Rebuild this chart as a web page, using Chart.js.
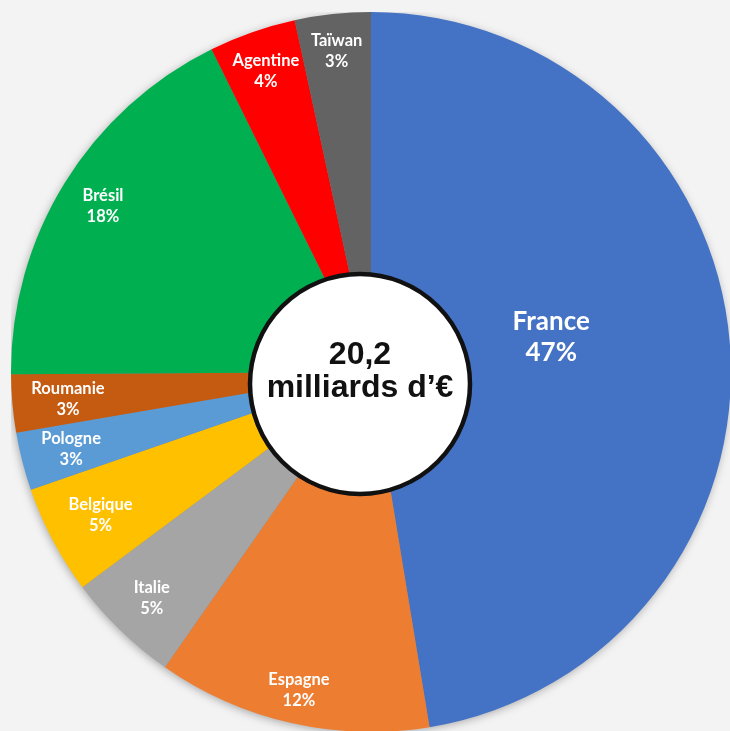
<!DOCTYPE html>
<html>
<head>
<meta charset="utf-8">
<script src="https://cdn.jsdelivr.net/npm/chart.js@4/dist/chart.umd.min.js"></script>
<style>
  html, body { margin: 0; padding: 0; width: 730px; height: 731px; overflow: hidden; background: #f3f3f3; }
  #wrap { position: absolute; left: 11px; top: 12px; width: 720px; height: 720px; }
</style>
</head>
<body>
<div id="wrap"><canvas id="pie"></canvas></div>
<script>
(function () {

// -------------------------------------------------------------------------------------------------------

var countries = ['France', 'Espagne', 'Italie', 'Belgique', 'Pologne', 'Roumanie', 'Brésil', 'Agentine', 'Taïwan'];
var shares = [47.4, 12.3, 5.1, 4.9, 2.6, 2.6, 17.8, 3.9, 3.4];
var colors = ['#4472C4', '#ED7D31', '#A5A5A5', '#FFC000', '#5B9BD5', '#C55A11', '#00B050', '#FF0000', '#636363'];
var centerLines = ['20,2', 'milliards d\u2019\u20AC'];

// -------------------------------------------------------------------------------------------------------

var pieShadow = {
    id: 'pieShadow',
    beforeDatasetsDraw: function (chart) {
        var arc = chart.getDatasetMeta(0).data[0];
        if (!arc) return;
        var ctx = chart.ctx;
        ctx.save();
        ctx.shadowColor = 'rgba(0,0,0,0.35)';
        ctx.shadowBlur = 10;
        ctx.shadowOffsetX = -1;
        ctx.shadowOffsetY = 2;
        ctx.fillStyle = '#888';
        ctx.beginPath();
        ctx.arc(arc.x, arc.y, arc.outerRadius - 1, 0, Math.PI * 2);
        ctx.fill();
        ctx.restore();
    }
};

var sliceLabels = {
    id: 'sliceLabels',
    afterDatasetsDraw: function (chart, args, opts) {
        var ctx = chart.ctx;
        var meta = chart.getDatasetMeta(0);
        ctx.save();
        ctx.fillStyle = '#fff';
        ctx.textAlign = 'center';
        ctx.textBaseline = 'middle';
        meta.data.forEach(function (arc, i) {
            var o = opts.special[i] || {};
            var f = o.radius || opts.radius;
            var size = o.size || opts.size;
            var gap = o.gap || opts.gap;
            var mid = (arc.startAngle + arc.endAngle) / 2 + (o.shift || 0) * Math.PI / 180;
            var x = arc.x + Math.cos(mid) * arc.outerRadius * f;
            var y = arc.y + Math.sin(mid) * arc.outerRadius * f;
            ctx.font = 'bold ' + size + 'px Lato, "Open Sans", sans-serif';
            ctx.fillText(countries[i], x, y - gap / 2);
            ctx.fillText(Math.round(shares[i]) + '%', x, y + gap / 2);
        });
        ctx.restore();
    }
};

var centerDisc = {
    id: 'centerDisc',
    afterDraw: function (chart, args, opts) {
        var arc = chart.getDatasetMeta(0).data[0];
        if (!arc) return;
        var ctx = chart.ctx;
        var cx = arc.x + opts.dx, cy = arc.y + opts.dy;
        ctx.save();
        ctx.beginPath();
        ctx.arc(cx, cy, opts.r, 0, Math.PI * 2);
        ctx.fillStyle = '#fff';
        ctx.fill();
        ctx.lineWidth = 4.5;
        ctx.strokeStyle = '#111';
        ctx.stroke();
        ctx.fillStyle = '#111';
        ctx.textAlign = 'center';
        ctx.textBaseline = 'middle';
        ctx.font = 'bold 32px "Liberation Sans", Arial, sans-serif';
        ctx.fillText(centerLines[0], cx, cy - 29);
        ctx.fillText(centerLines[1], cx, cy + 4);
        ctx.restore();
    }
};

window.pie_chart = function (canvasId) {
    try {
        var canvas = document.getElementById(canvasId);
        if (!canvas) return;

        var ctx = canvas.getContext("2d");

        return new Chart(ctx, {
            type: 'pie',
            data: {
                labels: countries,
                datasets: [{
                    data: shares,
                    backgroundColor: colors,
                    borderWidth: 0
                }]
            },
            options: {
                responsive: true,
                maintainAspectRatio: false,
                animation: false,
                layout: { padding: 0 },
                plugins: {
                    legend: { display: false },
                    tooltip: { enabled: false },
                    sliceLabels: {
                        radius: 0.87, size: 16.5, gap: 21,
                        special: {
                            0: { radius: 0.51, shift: -6.3, size: 26, gap: 31 },
                            1: { radius: 0.905 }, 2: { radius: 0.875 }, 3: { radius: 0.85 },
                            4: { radius: 0.86 }, 5: { radius: 0.845 }, 6: { radius: 0.875 },
                            7: { radius: 0.885 }, 8: { radius: 0.895 }
                        }
                    },
                    centerDisc: { dx: -11, dy: 12, r: 110 }
                }
            },
            plugins: [pieShadow, sliceLabels, centerDisc]
        });
    } catch (e) { console.log(e); }
};

pie_chart('pie');

// -------------------------------------------------------------------------------------------------------

})();
</script>
</body>
</html>
